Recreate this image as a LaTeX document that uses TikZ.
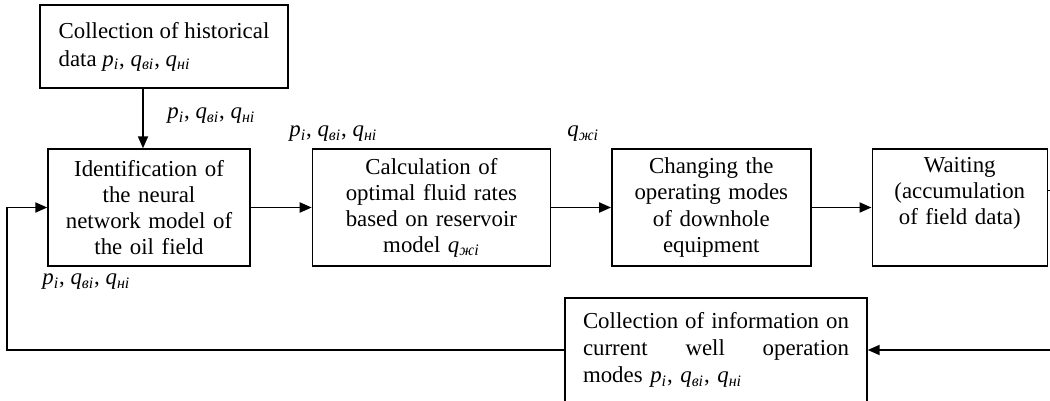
\documentclass[tikz,border=0pt]{standalone}
\usepackage{fontspec}
\setmainfont{Liberation Serif}
\usepackage{tikz}
\usetikzlibrary{arrows.meta,calc,positioning}
\tikzstyle{flow} =[line width=1.1pt,
                   -{Triangle[length=2.4mm, width=2mm]}]
\tikzstyle{link} =[line width=1.1pt]
\tikzstyle{block}=[rectangle, draw, line width=0.8pt,
                   minimum height=23.4mm, inner xsep=2mm,
                   align=center]
\tikzstyle{varlabel}=[inner sep=0pt, anchor=west, draw=none]
\newcommand{\qsub}[1]{\textit{q}\textsubscript{\textit{#1}}}
\newcommand{\pqvars}{\textit{p}\textsubscript{\textit{i}}, \qsub{ві}, \qsub{ні}}

\begin{document}
\begin{tikzpicture}[x=0.2mm, y=-0.2mm, node distance=12.2mm,
            every node/.style={font=\fontsize{13}{16}\selectfont}]
    \useasboundingbox (0,0) rectangle (1050,400);
    % top source block
    \node (A) [rectangle, draw, line width=0.8pt, minimum width=49.6mm,
               minimum height=16.6mm, align=left] at (164,46.5)
               {Collection of historical\\data \pqvars};
    % main chain
    \node (B) [block, minimum width=40.4mm, text width=36.4mm,
               font=\fontsize{13}{14.8}\selectfont] at (149,207.5)
               {Identification of\\the neural\\network model of\\the oil field};
    \node (C) [block, minimum width=47.6mm, text width=43.6mm,
               font=\fontsize{13}{14.8}\selectfont, right=of B]
               {Calculation of\\optimal fluid rates\\based on reservoir\\model \qsub{жі}};
    \node (D) [block, minimum width=39.8mm, text width=35.8mm,
               font=\fontsize{13}{14.8}\selectfont, right=12mm of C]
               {Changing the\\operating modes\\of downhole\\equipment};
    \node (E) [block, minimum width=35mm, text width=31mm,
               font=\fontsize{13}{14.8}\selectfont, right=12mm of D]
               {Waiting\\(accumulation\\of field data)\\\strut};
    % feedback block
    \node (F) [rectangle, draw, line width=0.8pt, minimum width=60.4mm,
               minimum height=20.8mm, inner xsep=3.6mm, text width=53.2mm,
               align=left, font=\fontsize{13}{15.4}\selectfont] at (716,350)
               {\makebox[\linewidth][s]{Collection\hfill of\hfill information\hfill on}\\
                \makebox[\linewidth][s]{current\hfill well\hfill operation}\\
                modes \pqvars};
    % labels
    \node (la) [varlabel] at (167,116) {\pqvars};
    \node (lc) [varlabel] at (289,134) {\pqvars};
    \node (ld) [varlabel] at (567,134) {\qsub{жі}};
    \node (lb) [varlabel] at (42,282) {\pqvars};
    % loop corners
    \coordinate (r) at (1053,0);
    \coordinate (l) at (7,0);
    \draw[flow] (A.south -| 143,0) -- (B.north -| 143,0);
    \draw[flow] (B) -- (C);
    \draw[flow] (C) -- (D);
    \draw[flow] (D) -- (E);
    \draw[flow] ([yshift=3.4mm]E.east) -| (r |- F.east) -- (F.east);
    \draw[flow] (F.west) -| (l |- B.west) -- (B.west);
\end{tikzpicture}
\end{document}
